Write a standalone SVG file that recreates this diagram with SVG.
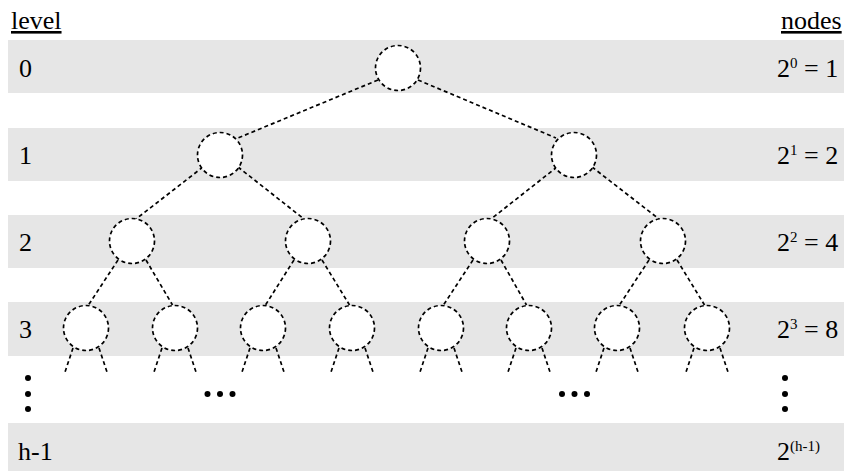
<svg xmlns="http://www.w3.org/2000/svg" width="848" height="471" viewBox="0 0 848 471">
<style>
.band{fill:#e6e6e6}
.node{fill:#fff;stroke:#000;stroke-width:1.7;stroke-dasharray:4 3}
.edge{fill:none;stroke:#000;stroke-width:1.7;stroke-dasharray:4 3}
.dot{fill:#000}
</style>
<rect width="848" height="471" fill="#fff"/>
<g id="bands">
<rect class="band" x="8" y="40" width="836" height="53"/>
<rect class="band" x="8" y="128" width="836" height="53"/>
<rect class="band" x="8" y="215" width="836" height="53"/>
<rect class="band" x="8" y="302" width="836" height="54"/>
<rect class="band" x="8" y="423" width="836" height="53"/>
</g>
<g id="headers" font-family="'Liberation Serif', 'Times New Roman', serif" font-size="26">
<text x="11" y="29" text-decoration="underline">level</text>
<text x="781" y="29" text-decoration="underline">nodes</text>
</g>
<g id="level-labels" font-family="'Liberation Serif', 'Times New Roman', serif" font-size="26">
<text x="19" y="77">0</text>
<text x="19" y="164">1</text>
<text x="19" y="251">2</text>
<text x="19" y="338">3</text>
<text x="18" y="460">h-1</text>
</g>
<g id="node-counts" font-family="'Liberation Serif', 'Times New Roman', serif" font-size="26">
<text x="777" y="77">2<tspan font-size="15" dy="-9">0</tspan><tspan dy="9"> = 1</tspan></text>
<text x="777" y="164">2<tspan font-size="15" dy="-9">1</tspan><tspan dy="9"> = 2</tspan></text>
<text x="777" y="251">2<tspan font-size="15" dy="-9">2</tspan><tspan dy="9"> = 4</tspan></text>
<text x="777" y="338">2<tspan font-size="15" dy="-9">3</tspan><tspan dy="9"> = 8</tspan></text>
<text x="777" y="460">2<tspan font-size="15" dy="-9">(h-1)</tspan></text>
</g>
<g id="connectors">
<line class="edge" x1="378" y1="80" x2="238" y2="138"/>
<line class="edge" x1="418" y1="80" x2="556" y2="138"/>
<line class="edge" x1="203" y1="167" x2="136" y2="219"/>
<line class="edge" x1="238" y1="167" x2="304" y2="219"/>
<line class="edge" x1="557" y1="167" x2="491" y2="219"/>
<line class="edge" x1="592" y1="167" x2="659" y2="219"/>
<line class="edge" x1="118" y1="260" x2="88.5" y2="305"/>
<line class="edge" x1="146" y1="260" x2="172.5" y2="305"/>
<line class="edge" x1="294" y1="260" x2="265.5" y2="305"/>
<line class="edge" x1="322" y1="260" x2="349.5" y2="305"/>
<line class="edge" x1="473" y1="260" x2="443.5" y2="305"/>
<line class="edge" x1="501" y1="260" x2="526.5" y2="305"/>
<line class="edge" x1="649" y1="260" x2="619.5" y2="305"/>
<line class="edge" x1="677" y1="260" x2="704.5" y2="305"/>
<line class="edge" x1="73" y1="348" x2="65" y2="372"/>
<line class="edge" x1="99" y1="348" x2="107" y2="372"/>
<line class="edge" x1="162" y1="348" x2="154" y2="372"/>
<line class="edge" x1="188" y1="348" x2="196" y2="372"/>
<line class="edge" x1="250" y1="348" x2="242" y2="372"/>
<line class="edge" x1="276" y1="348" x2="284" y2="372"/>
<line class="edge" x1="339" y1="348" x2="331" y2="372"/>
<line class="edge" x1="365" y1="348" x2="373" y2="372"/>
<line class="edge" x1="428" y1="348" x2="420" y2="372"/>
<line class="edge" x1="454" y1="348" x2="462" y2="372"/>
<line class="edge" x1="516" y1="348" x2="508" y2="372"/>
<line class="edge" x1="542" y1="348" x2="550" y2="372"/>
<line class="edge" x1="604" y1="348" x2="596" y2="372"/>
<line class="edge" x1="630" y1="348" x2="638" y2="372"/>
<line class="edge" x1="694" y1="348" x2="686" y2="372"/>
<line class="edge" x1="720" y1="348" x2="728" y2="372"/>
</g>
<g id="n0"><circle class="node" cx="398" cy="68" r="22.5"/></g>
<g id="n1"><circle class="node" cx="220" cy="155" r="22.5"/></g>
<g id="n2"><circle class="node" cx="574" cy="155" r="22.5"/></g>
<g id="n3"><circle class="node" cx="132" cy="241" r="22.5"/></g>
<g id="n4"><circle class="node" cx="308" cy="241" r="22.5"/></g>
<g id="n5"><circle class="node" cx="487" cy="241" r="22.5"/></g>
<g id="n6"><circle class="node" cx="663" cy="241" r="22.5"/></g>
<g id="n7"><circle class="node" cx="86" cy="328" r="22.5"/></g>
<g id="n8"><circle class="node" cx="175" cy="328" r="22.5"/></g>
<g id="n9"><circle class="node" cx="263" cy="328" r="22.5"/></g>
<g id="n10"><circle class="node" cx="352" cy="328" r="22.5"/></g>
<g id="n11"><circle class="node" cx="441" cy="328" r="22.5"/></g>
<g id="n12"><circle class="node" cx="529" cy="328" r="22.5"/></g>
<g id="n13"><circle class="node" cx="617" cy="328" r="22.5"/></g>
<g id="n14"><circle class="node" cx="707" cy="328" r="22.5"/></g>
<g id="ellipses">
<circle class="dot" cx="28" cy="378" r="3"/>
<circle class="dot" cx="28" cy="394" r="3"/>
<circle class="dot" cx="28" cy="409" r="3"/>
<circle class="dot" cx="785" cy="378" r="3"/>
<circle class="dot" cx="785" cy="394" r="3"/>
<circle class="dot" cx="785" cy="409" r="3"/>
<circle class="dot" cx="207.5" cy="394" r="3"/>
<circle class="dot" cx="220" cy="394" r="3"/>
<circle class="dot" cx="232.5" cy="394" r="3"/>
<circle class="dot" cx="562" cy="394" r="3"/>
<circle class="dot" cx="574.5" cy="394" r="3"/>
<circle class="dot" cx="587" cy="394" r="3"/>
</g>
</svg>
